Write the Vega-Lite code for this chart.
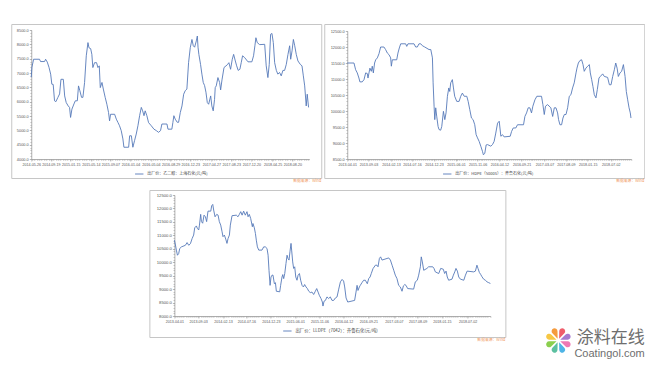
{
  "$schema": "https://vega.github.io/schema/vega-lite/v6.json",
  "background": "white",
  "padding": {"left": 10, "top": 23, "right": 0, "bottom": 0},
  "config": {
    "view": {"stroke": "#c6c6c6", "strokeWidth": 1},
    "font": "Noto Sans CJK SC",
    "axis": {"labelFont": "Liberation Sans", "labelFontSize": 3.6, "labelColor": "#555555", "domainColor": "#9a9a9a", "tickColor": "#9a9a9a", "domainWidth": 0.8, "tickWidth": 0.6, "grid": false, "title": null, "labelOverlap": false, "labelFlush": false, "labelPadding": 1, "tickSize": 2},
    "axisY": {"labelFontSize": 3.9},
    "legend": {"orient": "none", "title": null, "labelFont": "Noto Sans CJK SC", "labelFontSize": 4, "labelColor": "#444444", "symbolType": "stroke", "symbolSize": 70, "symbolStrokeWidth": 0.9, "labelLimit": 400, "labelOffset": 3, "padding": 0},
    "title": {"font": "Noto Sans CJK SC"}
  },
  "title": {"text": "涂料在线", "subtitle": "Coatingol.com", "orient": "bottom", "anchor": "end", "offset": -24, "fontSize": 17, "fontWeight": "normal", "color": "#6e6e6e", "subtitleFont": "Liberation Sans", "subtitleFontSize": 11, "subtitleColor": "#6e6e6e", "subtitlePadding": 1},
  "spacing": 5,
  "center": true,
  "resolve": {"scale": {"color": "independent"}, "legend": {"color": "independent"}},
  "vconcat": [
    {
      "spacing": 1,
      "resolve": {"scale": {"color": "independent"}, "legend": {"color": "independent"}},
      "hconcat": [
        {
          "width": 310, "height": 154,
          "title": {"text": "数据来源：Wind", "orient": "bottom", "anchor": "end", "fontSize": 3.8, "fontWeight": "normal", "color": "#f0965a", "offset": 1},
          "data": {"values": [
            {"date": "2014-05-26", "price": 6850}, {"date": "2014-05-30", "price": 7200}, {"date": "2014-06-09", "price": 7480}, {"date": "2014-07-14", "price": 7480}, {"date": "2014-07-20", "price": 7400}, {"date": "2014-08-13", "price": 7400}, {"date": "2014-08-19", "price": 7480}, {"date": "2014-08-29", "price": 7380}, {"date": "2014-09-08", "price": 7200}, {"date": "2014-09-18", "price": 6960}, {"date": "2014-09-25", "price": 6610}, {"date": "2014-10-03", "price": 6600}, {"date": "2014-10-11", "price": 6030}, {"date": "2014-10-19", "price": 6000}, {"date": "2014-10-31", "price": 6150}, {"date": "2014-11-10", "price": 6270}, {"date": "2014-11-18", "price": 6780}, {"date": "2014-12-02", "price": 6780}, {"date": "2014-12-10", "price": 6200}, {"date": "2014-12-19", "price": 5970}, {"date": "2014-12-31", "price": 5850}, {"date": "2015-01-08", "price": 5800}, {"date": "2015-01-14", "price": 5450}, {"date": "2015-01-22", "price": 5740}, {"date": "2015-02-03", "price": 5920}, {"date": "2015-02-11", "price": 6030}, {"date": "2015-02-23", "price": 6030}, {"date": "2015-03-02", "price": 6550}, {"date": "2015-03-10", "price": 6380}, {"date": "2015-03-20", "price": 6150}, {"date": "2015-03-28", "price": 6150}, {"date": "2015-04-07", "price": 6670}, {"date": "2015-04-17", "price": 7600}, {"date": "2015-04-27", "price": 8060}, {"date": "2015-05-03", "price": 7880}, {"date": "2015-05-13", "price": 7850}, {"date": "2015-05-20", "price": 7650}, {"date": "2015-05-26", "price": 7190}, {"date": "2015-06-05", "price": 7360}, {"date": "2015-06-17", "price": 7360}, {"date": "2015-06-25", "price": 7190}, {"date": "2015-07-03", "price": 7250}, {"date": "2015-07-09", "price": 6490}, {"date": "2015-07-19", "price": 6670}, {"date": "2015-07-27", "price": 6440}, {"date": "2015-08-07", "price": 6150}, {"date": "2015-08-17", "price": 5910}, {"date": "2015-08-27", "price": 5620}, {"date": "2015-09-02", "price": 5330}, {"date": "2015-09-08", "price": 5560}, {"date": "2015-10-02", "price": 5560}, {"date": "2015-10-12", "price": 5390}, {"date": "2015-10-22", "price": 5270}, {"date": "2015-10-31", "price": 5160}, {"date": "2015-11-10", "price": 4990}, {"date": "2015-11-20", "price": 4700}, {"date": "2015-11-26", "price": 4410}, {"date": "2015-12-24", "price": 4410}, {"date": "2015-12-30", "price": 4810}, {"date": "2016-01-09", "price": 4810}, {"date": "2016-01-18", "price": 4410}, {"date": "2016-01-28", "price": 4640}, {"date": "2016-02-07", "price": 4870}, {"date": "2016-02-17", "price": 5160}, {"date": "2016-02-27", "price": 5510}, {"date": "2016-03-08", "price": 5800}, {"date": "2016-03-16", "price": 5680}, {"date": "2016-03-24", "price": 5510}, {"date": "2016-03-31", "price": 5680}, {"date": "2016-04-10", "price": 5510}, {"date": "2016-04-20", "price": 5270}, {"date": "2016-05-06", "price": 5160}, {"date": "2016-05-22", "price": 5040}, {"date": "2016-06-05", "price": 4990}, {"date": "2016-06-18", "price": 4930}, {"date": "2016-06-30", "price": 4990}, {"date": "2016-07-08", "price": 5220}, {"date": "2016-08-07", "price": 5220}, {"date": "2016-08-13", "price": 5040}, {"date": "2016-09-05", "price": 5040}, {"date": "2016-09-11", "price": 5270}, {"date": "2016-09-17", "price": 5510}, {"date": "2016-09-25", "price": 5390}, {"date": "2016-10-07", "price": 5280}, {"date": "2016-10-15", "price": 5280}, {"date": "2016-10-25", "price": 5620}, {"date": "2016-11-04", "price": 5850}, {"date": "2016-11-14", "price": 6260}, {"date": "2016-11-23", "price": 6380}, {"date": "2016-12-03", "price": 6440}, {"date": "2016-12-13", "price": 7360}, {"date": "2016-12-23", "price": 7880}, {"date": "2017-01-02", "price": 8170}, {"date": "2017-01-10", "price": 7950}, {"date": "2017-01-18", "price": 7900}, {"date": "2017-01-28", "price": 8120}, {"date": "2017-02-03", "price": 8290}, {"date": "2017-02-07", "price": 7900}, {"date": "2017-02-12", "price": 7650}, {"date": "2017-02-22", "price": 7300}, {"date": "2017-03-02", "price": 6960}, {"date": "2017-03-10", "price": 6670}, {"date": "2017-03-18", "price": 6560}, {"date": "2017-03-26", "price": 6330}, {"date": "2017-04-03", "price": 5970}, {"date": "2017-04-11", "price": 5910}, {"date": "2017-04-23", "price": 6200}, {"date": "2017-04-30", "price": 5850}, {"date": "2017-05-08", "price": 5680}, {"date": "2017-05-16", "price": 6080}, {"date": "2017-05-20", "price": 6490}, {"date": "2017-05-26", "price": 6550}, {"date": "2017-06-05", "price": 6840}, {"date": "2017-06-15", "price": 6670}, {"date": "2017-06-21", "price": 6410}, {"date": "2017-06-29", "price": 6760}, {"date": "2017-07-11", "price": 7190}, {"date": "2017-07-31", "price": 7290}, {"date": "2017-08-09", "price": 7360}, {"date": "2017-08-19", "price": 7130}, {"date": "2017-08-29", "price": 7480}, {"date": "2017-09-06", "price": 7650}, {"date": "2017-09-16", "price": 7420}, {"date": "2017-09-24", "price": 7250}, {"date": "2017-10-03", "price": 7090}, {"date": "2017-10-13", "price": 7130}, {"date": "2017-10-21", "price": 7360}, {"date": "2017-10-29", "price": 7600}, {"date": "2017-11-10", "price": 7540}, {"date": "2017-11-30", "price": 7390}, {"date": "2017-12-23", "price": 7390}, {"date": "2018-01-02", "price": 7600}, {"date": "2018-01-10", "price": 7950}, {"date": "2018-01-16", "price": 8230}, {"date": "2018-01-24", "price": 8060}, {"date": "2018-02-07", "price": 7990}, {"date": "2018-03-09", "price": 8000}, {"date": "2018-03-18", "price": 7250}, {"date": "2018-03-28", "price": 6840}, {"date": "2018-04-05", "price": 7300}, {"date": "2018-04-13", "price": 8350}, {"date": "2018-04-21", "price": 8380}, {"date": "2018-04-29", "price": 8060}, {"date": "2018-05-07", "price": 7360}, {"date": "2018-05-17", "price": 7090}, {"date": "2018-05-26", "price": 6960}, {"date": "2018-06-05", "price": 7020}, {"date": "2018-06-15", "price": 6900}, {"date": "2018-06-25", "price": 7090}, {"date": "2018-07-05", "price": 7090}, {"date": "2018-07-15", "price": 7300}, {"date": "2018-07-25", "price": 7650}, {"date": "2018-08-04", "price": 7950}, {"date": "2018-08-10", "price": 7480}, {"date": "2018-08-18", "price": 7770}, {"date": "2018-08-26", "price": 8170}, {"date": "2018-09-03", "price": 7950}, {"date": "2018-09-12", "price": 7650}, {"date": "2018-09-22", "price": 7420}, {"date": "2018-10-06", "price": 7300}, {"date": "2018-10-16", "price": 7250}, {"date": "2018-10-24", "price": 6900}, {"date": "2018-11-01", "price": 6550}, {"date": "2018-11-10", "price": 5850}, {"date": "2018-11-16", "price": 6260}, {"date": "2018-11-24", "price": 5800}
          ]},
          "resolve": {"axis": {"x": "independent", "y": "independent"}},
          "layer": [
            {
              "mark": {"type": "line", "strokeWidth": 0.9},
              "encoding": {
                "x": {"field": "date", "type": "temporal",
                  "scale": {"type": "utc", "domain": [{"year": 2014, "month": 5, "date": 26, "utc": true}, {"year": 2018, "month": 11, "date": 28, "utc": true}], "range": [20, 298]},
                  "axis": {"format": "%Y-%m-%d", "labelAngle": 0, "offset": -19,
                    "values": [{"year": 2014, "month": 5, "date": 26, "utc": true}, {"year": 2014, "month": 9, "date": 19, "utc": true}, {"year": 2015, "month": 1, "date": 15, "utc": true}, {"year": 2015, "month": 5, "date": 14, "utc": true}, {"year": 2015, "month": 9, "date": 7, "utc": true}, {"year": 2016, "month": 1, "date": 4, "utc": true}, {"year": 2016, "month": 5, "date": 4, "utc": true}, {"year": 2016, "month": 8, "date": 29, "utc": true}, {"year": 2016, "month": 12, "date": 23, "utc": true}, {"year": 2017, "month": 4, "date": 27, "utc": true}, {"year": 2017, "month": 8, "date": 23, "utc": true}, {"year": 2017, "month": 12, "date": 20, "utc": true}, {"year": 2018, "month": 4, "date": 25, "utc": true}, {"year": 2018, "month": 8, "date": 20, "utc": true}]}},
                "y": {"field": "price", "type": "quantitative",
                  "scale": {"domain": [4000, 8500], "range": [135, 6], "nice": false, "zero": false},
                  "axis": {"tickCount": 9, "format": ".1f", "offset": -20}},
                "color": {"datum": "出厂价：乙二醇：上海石化(元/吨)", "type": "nominal", "scale": {"range": ["#5679b9"]},
                  "legend": {"legendX": 123, "legendY": 145}}
              }
            },
            {
              "mark": {"type": "line", "opacity": 0},
              "encoding": {
                "x": {"field": "date", "type": "temporal", "axis": {"orient": "bottom", "labels": false, "domain": false, "tickCount": {"interval": "week", "step": 2}, "offset": -19, "tickSize": 1.3}},
                "y": {"field": "price", "type": "quantitative", "axis": {"orient": "left", "labels": false, "domain": false, "tickCount": 45, "offset": -20, "tickSize": 1.3}}
              }
            }
          ]
        },
        {
          "width": 320, "height": 154,
          "title": {"text": "数据来源：Wind", "orient": "bottom", "anchor": "end", "fontSize": 3.8, "fontWeight": "normal", "color": "#f0965a", "offset": 1},
          "data": {"values": [
            {"date": "2013-04-01", "price": 11500}, {"date": "2013-05-20", "price": 11500}, {"date": "2013-06-01", "price": 11290}, {"date": "2013-06-13", "price": 11190}, {"date": "2013-06-25", "price": 11030}, {"date": "2013-07-02", "price": 10910}, {"date": "2013-07-19", "price": 10910}, {"date": "2013-08-01", "price": 10980}, {"date": "2013-08-13", "price": 11190}, {"date": "2013-08-25", "price": 11170}, {"date": "2013-08-30", "price": 11030}, {"date": "2013-09-13", "price": 11340}, {"date": "2013-09-23", "price": 11240}, {"date": "2013-09-30", "price": 11400}, {"date": "2013-10-08", "price": 11190}, {"date": "2013-10-17", "price": 11500}, {"date": "2013-10-25", "price": 11600}, {"date": "2013-11-06", "price": 11660}, {"date": "2013-11-18", "price": 11790}, {"date": "2013-11-30", "price": 12000}, {"date": "2013-12-24", "price": 12000}, {"date": "2014-01-05", "price": 11920}, {"date": "2014-01-18", "price": 11810}, {"date": "2014-01-30", "price": 11760}, {"date": "2014-02-11", "price": 11660}, {"date": "2014-02-16", "price": 11400}, {"date": "2014-02-23", "price": 11600}, {"date": "2014-03-27", "price": 11600}, {"date": "2014-04-05", "price": 11810}, {"date": "2014-04-15", "price": 11970}, {"date": "2014-04-25", "price": 12100}, {"date": "2014-05-31", "price": 12100}, {"date": "2014-06-08", "price": 12020}, {"date": "2014-06-17", "price": 12100}, {"date": "2014-07-31", "price": 12100}, {"date": "2014-08-12", "price": 12000}, {"date": "2014-08-24", "price": 12000}, {"date": "2014-09-05", "price": 12100}, {"date": "2014-09-18", "price": 12100}, {"date": "2014-09-30", "price": 12040}, {"date": "2014-10-17", "price": 12000}, {"date": "2014-11-17", "price": 11920}, {"date": "2014-11-30", "price": 11920}, {"date": "2014-12-12", "price": 11660}, {"date": "2014-12-17", "price": 10880}, {"date": "2014-12-24", "price": 10150}, {"date": "2014-12-29", "price": 9730}, {"date": "2015-01-05", "price": 10100}, {"date": "2015-01-12", "price": 9840}, {"date": "2015-01-22", "price": 9520}, {"date": "2015-01-29", "price": 9420}, {"date": "2015-02-10", "price": 9400}, {"date": "2015-02-18", "price": 9520}, {"date": "2015-03-02", "price": 9990}, {"date": "2015-03-12", "price": 9730}, {"date": "2015-03-21", "price": 9940}, {"date": "2015-03-31", "price": 10460}, {"date": "2015-04-10", "price": 10720}, {"date": "2015-04-17", "price": 10610}, {"date": "2015-04-24", "price": 10880}, {"date": "2015-05-06", "price": 10980}, {"date": "2015-05-14", "price": 10720}, {"date": "2015-05-23", "price": 10460}, {"date": "2015-06-07", "price": 10300}, {"date": "2015-06-24", "price": 10300}, {"date": "2015-07-06", "price": 10460}, {"date": "2015-07-18", "price": 10560}, {"date": "2015-07-31", "price": 10460}, {"date": "2015-08-19", "price": 10460}, {"date": "2015-08-29", "price": 10300}, {"date": "2015-09-10", "price": 10040}, {"date": "2015-09-22", "price": 9780}, {"date": "2015-10-04", "price": 9730}, {"date": "2015-10-16", "price": 9570}, {"date": "2015-10-26", "price": 9260}, {"date": "2015-11-05", "price": 9160}, {"date": "2015-11-17", "price": 9050}, {"date": "2015-11-29", "price": 8900}, {"date": "2015-12-11", "price": 8740}, {"date": "2015-12-18", "price": 8630}, {"date": "2015-12-28", "price": 8680}, {"date": "2016-01-07", "price": 8940}, {"date": "2016-01-17", "price": 8950}, {"date": "2016-02-10", "price": 8900}, {"date": "2016-02-22", "price": 8950}, {"date": "2016-03-05", "price": 9050}, {"date": "2016-03-17", "price": 9310}, {"date": "2016-03-30", "price": 9620}, {"date": "2016-04-11", "price": 9680}, {"date": "2016-04-23", "price": 9210}, {"date": "2016-05-05", "price": 9260}, {"date": "2016-05-17", "price": 9190}, {"date": "2016-06-30", "price": 9210}, {"date": "2016-07-10", "price": 9360}, {"date": "2016-07-22", "price": 9470}, {"date": "2016-08-10", "price": 9470}, {"date": "2016-08-22", "price": 9570}, {"date": "2016-10-05", "price": 9570}, {"date": "2016-10-15", "price": 9830}, {"date": "2016-10-27", "price": 9940}, {"date": "2016-11-08", "price": 10100}, {"date": "2016-11-20", "price": 10100}, {"date": "2016-12-02", "price": 9940}, {"date": "2016-12-12", "price": 10150}, {"date": "2016-12-27", "price": 10350}, {"date": "2017-01-10", "price": 10460}, {"date": "2017-02-13", "price": 10460}, {"date": "2017-02-23", "price": 10200}, {"date": "2017-03-05", "price": 9890}, {"date": "2017-03-14", "price": 10150}, {"date": "2017-03-29", "price": 10200}, {"date": "2017-04-22", "price": 10100}, {"date": "2017-05-05", "price": 9830}, {"date": "2017-05-17", "price": 10100}, {"date": "2017-05-29", "price": 10100}, {"date": "2017-06-10", "price": 9940}, {"date": "2017-06-17", "price": 9730}, {"date": "2017-06-27", "price": 9570}, {"date": "2017-07-09", "price": 9570}, {"date": "2017-07-19", "price": 9780}, {"date": "2017-07-29", "price": 9890}, {"date": "2017-08-10", "price": 9890}, {"date": "2017-08-22", "price": 10100}, {"date": "2017-09-03", "price": 10460}, {"date": "2017-09-15", "price": 10510}, {"date": "2017-09-27", "price": 10720}, {"date": "2017-10-09", "price": 10880}, {"date": "2017-10-22", "price": 11190}, {"date": "2017-10-29", "price": 11340}, {"date": "2017-11-08", "price": 11500}, {"date": "2017-11-20", "price": 11580}, {"date": "2017-12-02", "price": 11600}, {"date": "2017-12-12", "price": 11450}, {"date": "2017-12-21", "price": 11240}, {"date": "2018-01-02", "price": 11340}, {"date": "2018-01-15", "price": 11400}, {"date": "2018-01-27", "price": 11450}, {"date": "2018-02-03", "price": 11190}, {"date": "2018-02-13", "price": 10980}, {"date": "2018-02-22", "price": 10770}, {"date": "2018-03-04", "price": 10510}, {"date": "2018-03-16", "price": 10410}, {"date": "2018-03-26", "price": 10670}, {"date": "2018-04-07", "price": 11030}, {"date": "2018-04-17", "price": 11080}, {"date": "2018-05-04", "price": 11160}, {"date": "2018-05-16", "price": 11080}, {"date": "2018-06-09", "price": 11050}, {"date": "2018-06-22", "price": 10820}, {"date": "2018-07-04", "price": 10820}, {"date": "2018-07-16", "price": 11080}, {"date": "2018-07-28", "price": 11290}, {"date": "2018-08-07", "price": 11500}, {"date": "2018-08-17", "price": 11340}, {"date": "2018-08-26", "price": 11080}, {"date": "2018-09-07", "price": 11190}, {"date": "2018-09-19", "price": 11240}, {"date": "2018-10-02", "price": 11450}, {"date": "2018-10-14", "price": 11080}, {"date": "2018-10-23", "price": 10610}, {"date": "2018-11-02", "price": 10350}, {"date": "2018-11-12", "price": 10100}, {"date": "2018-11-21", "price": 9940}, {"date": "2018-11-26", "price": 9780}
          ]},
          "resolve": {"axis": {"x": "independent", "y": "independent"}},
          "layer": [
            {
              "mark": {"type": "line", "strokeWidth": 0.9},
              "encoding": {
                "x": {"field": "date", "type": "temporal",
                  "scale": {"type": "utc", "domain": [{"year": 2013, "month": 4, "date": 1, "utc": true}, {"year": 2018, "month": 11, "date": 28, "utc": true}], "range": [23, 307]},
                  "axis": {"format": "%Y-%m-%d", "labelAngle": 0, "offset": -19,
                    "values": [{"year": 2013, "month": 4, "date": 1, "utc": true}, {"year": 2013, "month": 9, "date": 3, "utc": true}, {"year": 2014, "month": 2, "date": 13, "utc": true}, {"year": 2014, "month": 7, "date": 16, "utc": true}, {"year": 2014, "month": 12, "date": 23, "utc": true}, {"year": 2015, "month": 6, "date": 1, "utc": true}, {"year": 2015, "month": 11, "date": 6, "utc": true}, {"year": 2016, "month": 4, "date": 12, "utc": true}, {"year": 2016, "month": 9, "date": 21, "utc": true}, {"year": 2017, "month": 3, "date": 7, "utc": true}, {"year": 2017, "month": 8, "date": 9, "utc": true}, {"year": 2018, "month": 1, "date": 15, "utc": true}, {"year": 2018, "month": 7, "date": 2, "utc": true}]}},
                "y": {"field": "price", "type": "quantitative",
                  "scale": {"domain": [8500, 12500], "range": [135, 7], "nice": false, "zero": false},
                  "axis": {"tickCount": 8, "format": ".1f", "offset": -23}},
                "color": {"datum": "出厂价：HDPE（5000S）：齐鲁石化(元/吨)", "type": "nominal", "scale": {"range": ["#5679b9"]},
                  "legend": {"legendX": 118, "legendY": 145}}
              }
            },
            {
              "mark": {"type": "line", "opacity": 0},
              "encoding": {
                "x": {"field": "date", "type": "temporal", "axis": {"orient": "bottom", "labels": false, "domain": false, "tickCount": {"interval": "week", "step": 2}, "offset": -19, "tickSize": 1.3}},
                "y": {"field": "price", "type": "quantitative", "axis": {"orient": "left", "labels": false, "domain": false, "tickCount": 40, "offset": -23, "tickSize": 1.3}}
              }
            }
          ]
        }
      ]
    },
    {
      "spacing": 39,
      "resolve": {"scale": {"color": "independent"}, "legend": {"color": "independent"}},
      "hconcat": [
        {
          "width": 24, "height": 1,
          "view": {"stroke": null, "fill": "white"},
          "data": {"values": []},
          "mark": "point"
        },
        {
          "width": 356, "height": 147,
          "title": {"text": "数据来源：Wind", "orient": "bottom", "anchor": "end", "fontSize": 3.8, "fontWeight": "normal", "color": "#f0965a", "offset": 1},
          "data": {"values": [
            {"date": "2013-04-01", "price": 10820}, {"date": "2013-04-08", "price": 10640}, {"date": "2013-04-14", "price": 10450}, {"date": "2013-04-21", "price": 10260}, {"date": "2013-04-29", "price": 10320}, {"date": "2013-05-06", "price": 10510}, {"date": "2013-05-17", "price": 10570}, {"date": "2013-06-12", "price": 10630}, {"date": "2013-06-23", "price": 10730}, {"date": "2013-07-04", "price": 10630}, {"date": "2013-07-15", "price": 10690}, {"date": "2013-07-26", "price": 10880}, {"date": "2013-08-05", "price": 11010}, {"date": "2013-08-12", "price": 11280}, {"date": "2013-08-23", "price": 11350}, {"date": "2013-08-29", "price": 11260}, {"date": "2013-09-07", "price": 11200}, {"date": "2013-09-12", "price": 11380}, {"date": "2013-09-20", "price": 11780}, {"date": "2013-09-25", "price": 11510}, {"date": "2013-10-03", "price": 11450}, {"date": "2013-10-12", "price": 11750}, {"date": "2013-10-21", "price": 11690}, {"date": "2013-10-29", "price": 11510}, {"date": "2013-11-07", "price": 11900}, {"date": "2013-11-25", "price": 11900}, {"date": "2013-12-01", "price": 12100}, {"date": "2013-12-08", "price": 12150}, {"date": "2013-12-14", "price": 11940}, {"date": "2013-12-23", "price": 11690}, {"date": "2014-01-03", "price": 11780}, {"date": "2014-01-12", "price": 11750}, {"date": "2014-01-20", "price": 11510}, {"date": "2014-01-29", "price": 11380}, {"date": "2014-02-07", "price": 11130}, {"date": "2014-02-13", "price": 10950}, {"date": "2014-02-22", "price": 11010}, {"date": "2014-03-03", "price": 10860}, {"date": "2014-03-11", "price": 10700}, {"date": "2014-03-18", "price": 10880}, {"date": "2014-03-27", "price": 11010}, {"date": "2014-04-02", "price": 11380}, {"date": "2014-04-13", "price": 11730}, {"date": "2014-05-11", "price": 11750}, {"date": "2014-05-22", "price": 11690}, {"date": "2014-05-31", "price": 11780}, {"date": "2014-06-09", "price": 11880}, {"date": "2014-06-18", "price": 11750}, {"date": "2014-06-28", "price": 11900}, {"date": "2014-07-09", "price": 11750}, {"date": "2014-07-20", "price": 11880}, {"date": "2014-07-27", "price": 11690}, {"date": "2014-08-04", "price": 11780}, {"date": "2014-08-13", "price": 11630}, {"date": "2014-08-24", "price": 11320}, {"date": "2014-08-28", "price": 11440}, {"date": "2014-09-06", "price": 11280}, {"date": "2014-09-13", "price": 11070}, {"date": "2014-09-19", "price": 10820}, {"date": "2014-09-26", "price": 10570}, {"date": "2014-10-05", "price": 10450}, {"date": "2014-10-26", "price": 10450}, {"date": "2014-11-06", "price": 10570}, {"date": "2014-11-17", "price": 10570}, {"date": "2014-11-28", "price": 10510}, {"date": "2014-12-05", "price": 10260}, {"date": "2014-12-11", "price": 9700}, {"date": "2014-12-18", "price": 9140}, {"date": "2014-12-24", "price": 9450}, {"date": "2014-12-31", "price": 9520}, {"date": "2015-01-06", "price": 9520}, {"date": "2015-01-15", "price": 9200}, {"date": "2015-01-22", "price": 9240}, {"date": "2015-01-28", "price": 8920}, {"date": "2015-02-19", "price": 8900}, {"date": "2015-02-25", "price": 9140}, {"date": "2015-03-06", "price": 9450}, {"date": "2015-03-11", "price": 9540}, {"date": "2015-03-17", "price": 9390}, {"date": "2015-03-24", "price": 9580}, {"date": "2015-04-01", "price": 9950}, {"date": "2015-04-08", "price": 10260}, {"date": "2015-04-14", "price": 10140}, {"date": "2015-04-21", "price": 10080}, {"date": "2015-04-27", "price": 10390}, {"date": "2015-05-04", "price": 10700}, {"date": "2015-05-08", "price": 10450}, {"date": "2015-05-15", "price": 10010}, {"date": "2015-05-21", "price": 9770}, {"date": "2015-05-28", "price": 9830}, {"date": "2015-06-04", "price": 9450}, {"date": "2015-06-12", "price": 9330}, {"date": "2015-06-19", "price": 9510}, {"date": "2015-06-28", "price": 9580}, {"date": "2015-07-06", "price": 9330}, {"date": "2015-07-15", "price": 9140}, {"date": "2015-07-24", "price": 9080}, {"date": "2015-08-01", "price": 9170}, {"date": "2015-08-10", "price": 9080}, {"date": "2015-08-19", "price": 9020}, {"date": "2015-08-28", "price": 8920}, {"date": "2015-09-07", "price": 8870}, {"date": "2015-09-18", "price": 8890}, {"date": "2015-09-29", "price": 8800}, {"date": "2015-10-10", "price": 8920}, {"date": "2015-10-19", "price": 9020}, {"date": "2015-10-28", "price": 8890}, {"date": "2015-11-05", "price": 8770}, {"date": "2015-11-16", "price": 8650}, {"date": "2015-11-25", "price": 8520}, {"date": "2015-11-29", "price": 8370}, {"date": "2015-12-06", "price": 8550}, {"date": "2015-12-15", "price": 8580}, {"date": "2015-12-25", "price": 8710}, {"date": "2016-01-05", "price": 8650}, {"date": "2016-01-16", "price": 8710}, {"date": "2016-01-27", "price": 8580}, {"date": "2016-02-07", "price": 8580}, {"date": "2016-02-18", "price": 8670}, {"date": "2016-02-29", "price": 8710}, {"date": "2016-03-11", "price": 9000}, {"date": "2016-03-22", "price": 9270}, {"date": "2016-04-02", "price": 9360}, {"date": "2016-04-12", "price": 9300}, {"date": "2016-04-19", "price": 9080}, {"date": "2016-04-28", "price": 8670}, {"date": "2016-05-09", "price": 8520}, {"date": "2016-06-23", "price": 8580}, {"date": "2016-07-02", "price": 8890}, {"date": "2016-07-09", "price": 9140}, {"date": "2016-07-15", "price": 8950}, {"date": "2016-07-24", "price": 9080}, {"date": "2016-07-30", "price": 9140}, {"date": "2016-08-10", "price": 9240}, {"date": "2016-08-21", "price": 9330}, {"date": "2016-09-01", "price": 9330}, {"date": "2016-09-14", "price": 9200}, {"date": "2016-09-23", "price": 9390}, {"date": "2016-10-02", "price": 9450}, {"date": "2016-10-10", "price": 9580}, {"date": "2016-10-21", "price": 9760}, {"date": "2016-11-06", "price": 9890}, {"date": "2016-11-16", "price": 9890}, {"date": "2016-11-23", "price": 9830}, {"date": "2016-12-02", "price": 10140}, {"date": "2016-12-10", "price": 10200}, {"date": "2016-12-19", "price": 10080}, {"date": "2017-02-01", "price": 10160}, {"date": "2017-02-12", "price": 10080}, {"date": "2017-02-23", "price": 9890}, {"date": "2017-03-06", "price": 9700}, {"date": "2017-03-16", "price": 9520}, {"date": "2017-03-27", "price": 9390}, {"date": "2017-04-07", "price": 9140}, {"date": "2017-04-18", "price": 9080}, {"date": "2017-04-29", "price": 8920}, {"date": "2017-05-08", "price": 9120}, {"date": "2017-05-17", "price": 9170}, {"date": "2017-05-25", "price": 9140}, {"date": "2017-06-05", "price": 9020}, {"date": "2017-07-14", "price": 9000}, {"date": "2017-07-25", "price": 9270}, {"date": "2017-08-07", "price": 9330}, {"date": "2017-08-16", "price": 9520}, {"date": "2017-08-27", "price": 9830}, {"date": "2017-09-02", "price": 10200}, {"date": "2017-09-09", "price": 10010}, {"date": "2017-09-18", "price": 9700}, {"date": "2017-10-09", "price": 9770}, {"date": "2017-10-20", "price": 9830}, {"date": "2017-11-16", "price": 9830}, {"date": "2017-11-24", "price": 9770}, {"date": "2017-12-03", "price": 9640}, {"date": "2017-12-25", "price": 9580}, {"date": "2018-01-07", "price": 9770}, {"date": "2018-01-24", "price": 9740}, {"date": "2018-02-02", "price": 9580}, {"date": "2018-02-11", "price": 9670}, {"date": "2018-02-19", "price": 9450}, {"date": "2018-02-28", "price": 9330}, {"date": "2018-03-22", "price": 9370}, {"date": "2018-03-31", "price": 9520}, {"date": "2018-04-09", "price": 9640}, {"date": "2018-04-17", "price": 9770}, {"date": "2018-04-26", "price": 9670}, {"date": "2018-05-05", "price": 9450}, {"date": "2018-05-16", "price": 9370}, {"date": "2018-06-07", "price": 9330}, {"date": "2018-06-18", "price": 9520}, {"date": "2018-06-29", "price": 9670}, {"date": "2018-08-11", "price": 9640}, {"date": "2018-08-22", "price": 9670}, {"date": "2018-09-01", "price": 9890}, {"date": "2018-09-08", "price": 9770}, {"date": "2018-09-17", "price": 9620}, {"date": "2018-09-25", "price": 9550}, {"date": "2018-10-04", "price": 9460}, {"date": "2018-10-15", "price": 9370}, {"date": "2018-10-26", "price": 9330}, {"date": "2018-11-06", "price": 9270}, {"date": "2018-11-17", "price": 9240}, {"date": "2018-11-28", "price": 9210}
          ]},
          "resolve": {"axis": {"x": "independent", "y": "independent"}},
          "layer": [
            {
              "mark": {"type": "line", "strokeWidth": 0.9},
              "encoding": {
                "x": {"field": "date", "type": "temporal",
                  "scale": {"type": "utc", "domain": [{"year": 2013, "month": 4, "date": 1, "utc": true}, {"year": 2018, "month": 11, "date": 28, "utc": true}], "range": [25, 341]},
                  "axis": {"format": "%Y-%m-%d", "labelAngle": 0, "offset": -21,
                    "values": [{"year": 2013, "month": 4, "date": 1, "utc": true}, {"year": 2013, "month": 9, "date": 3, "utc": true}, {"year": 2014, "month": 2, "date": 13, "utc": true}, {"year": 2014, "month": 7, "date": 16, "utc": true}, {"year": 2014, "month": 12, "date": 23, "utc": true}, {"year": 2015, "month": 6, "date": 1, "utc": true}, {"year": 2015, "month": 11, "date": 6, "utc": true}, {"year": 2016, "month": 4, "date": 12, "utc": true}, {"year": 2016, "month": 9, "date": 21, "utc": true}, {"year": 2017, "month": 3, "date": 7, "utc": true}, {"year": 2017, "month": 8, "date": 9, "utc": true}, {"year": 2018, "month": 1, "date": 15, "utc": true}, {"year": 2018, "month": 7, "date": 2, "utc": true}]}},
                "y": {"field": "price", "type": "quantitative",
                  "scale": {"domain": [8000, 12500], "range": [126, 5], "nice": false, "zero": false},
                  "axis": {"tickCount": 9, "format": ".1f", "offset": -25, "labelFontSize": 4.2}},
                "color": {"datum": "出厂价：LLDPE（7042）：齐鲁石化(元/吨)", "type": "nominal", "scale": {"range": ["#5679b9"]},
                  "legend": {"legendX": 133, "legendY": 136, "labelFontSize": 4.4}}
              }
            },
            {
              "mark": {"type": "line", "opacity": 0},
              "encoding": {
                "x": {"field": "date", "type": "temporal", "axis": {"orient": "bottom", "labels": false, "domain": false, "tickCount": {"interval": "week", "step": 2}, "offset": -21, "tickSize": 1.3}},
                "y": {"field": "price", "type": "quantitative", "axis": {"orient": "left", "labels": false, "domain": false, "tickCount": 45, "offset": -25, "tickSize": 1.3}}
              }
            }
          ]
        },
        {
          "spacing": 2,
          "vconcat": [
            {
              "width": 24, "height": 135,
              "view": {"stroke": null, "fill": "white"},
              "data": {"values": []},
              "mark": "point"
            },
            {
              "width": 24, "height": 27,
              "view": {"stroke": null},
              "data": {"values": [
                {"petal": 1, "share": 1}, {"petal": 2, "share": 1}, {"petal": 3, "share": 1}, {"petal": 4, "share": 1},
                {"petal": 5, "share": 1}, {"petal": 6, "share": 1}, {"petal": 7, "share": 1}, {"petal": 8, "share": 1}
              ]},
              "mark": {"type": "arc", "innerRadius": 2, "padAngle": 0.14, "cornerRadius": 3, "radius": 13},
              "encoding": {
                "theta": {"field": "share", "type": "quantitative", "stack": true},
                "order": {"field": "petal", "type": "quantitative"},
                "color": {"field": "petal", "type": "nominal", "legend": null,
                  "scale": {"range": ["#ef5d6b", "#a67ad0", "#ee79b3", "#4eb4e6", "#5cc0a0", "#8bcf4e", "#f7c744", "#f59b3d"]}}
              }
            }
          ]
        }
      ]
    }
  ]
}
